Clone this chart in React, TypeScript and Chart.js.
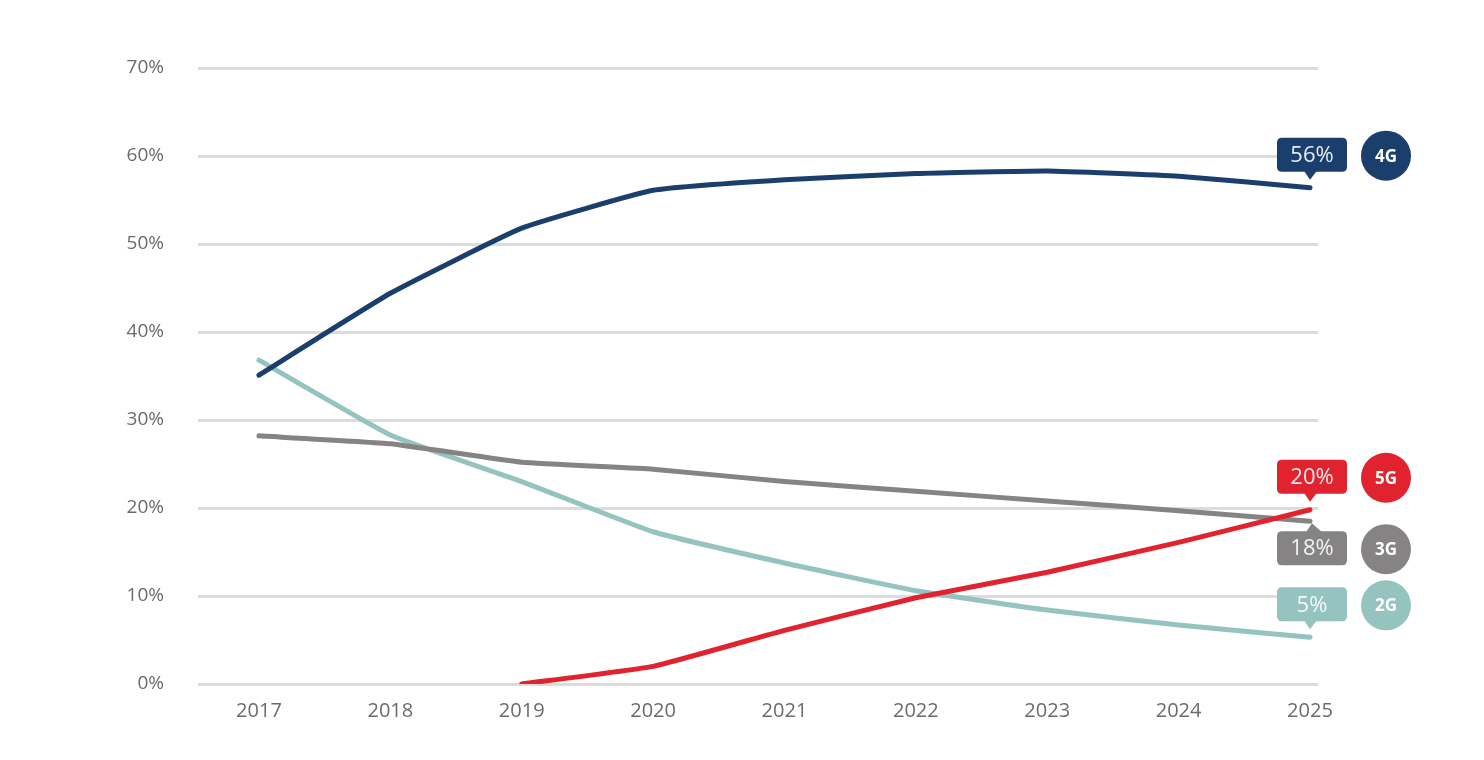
import React, { useEffect, useRef } from "react";
import { Chart, registerables } from "chart.js";

Chart.register(...registerables);

const years = [2017, 2018, 2019, 2020, 2021, 2022, 2023, 2024, 2025];
const yTicks = [0, 10, 20, 30, 40, 50, 60, 70];

const series4G = [35.1, 44.4, 51.8, 56.1, 57.3, 58.0, 58.3, 57.7, 56.4];
const series3G = [28.2, 27.3, 25.2, 24.4, 23.0, 21.9, 20.8, 19.7, 18.5];
const series2G = [36.8, 28.3, 23.0, 17.3, 13.75, 10.6, 8.4, 6.7, 5.3];
const series5G = [null, null, 0, 2.0, 6.1, 9.8, 12.7, 16.1, 19.8];

const seriesNames = ["4G", "5G", "3G", "2G"];
const seriesColors = ["#1b3f6c", "#e1222f", "#858383", "#94c3c0"];
const endLabels = ["56%", "20%", "18%", "5%"];
const calloutDirs = ["up", "up", "down", "up"]; // box above or below line end

const FONT = "'Open Sans', 'Noto Sans', sans-serif";

function toPoints(vals: (number | null)[]) {
  const out: { x: number; y: number }[] = [];
  vals.forEach((v, i) => {
    if (v !== null) out.push({ x: years[i], y: v });
  });
  return out;
}

function roundRect(ctx: CanvasRenderingContext2D, x: number, y: number, w: number, h: number, r: number) {
  ctx.beginPath();
  ctx.moveTo(x + r, y);
  ctx.lineTo(x + w - r, y);
  ctx.quadraticCurveTo(x + w, y, x + w, y + r);
  ctx.lineTo(x + w, y + h - r);
  ctx.quadraticCurveTo(x + w, y + h, x + w - r, y + h);
  ctx.lineTo(x + r, y + h);
  ctx.quadraticCurveTo(x, y + h, x, y + h - r);
  ctx.lineTo(x, y + r);
  ctx.quadraticCurveTo(x, y, x + r, y);
  ctx.closePath();
}

const calloutPlugin = {
  id: "callouts",
  afterDatasetsDraw(chart: any) {
    const ctx: CanvasRenderingContext2D = chart.ctx;
    ctx.save();
    chart.data.datasets.forEach((ds: any, i: number) => {
      const meta = chart.getDatasetMeta(i);
      const pt = meta.data[meta.data.length - 1];
      if (!pt) return;
      const px = pt.x;
      const py = pt.y;
      const color = seriesColors[i];
      const w = 70;
      const h = 34;
      const bx = px + 2 - w / 2;
      let by: number;
      ctx.fillStyle = color;
      if (calloutDirs[i] === "up") {
        by = py - 16 - h;
        roundRect(ctx, bx, by, w, h, 5);
        ctx.fill();
        ctx.beginPath();
        ctx.moveTo(px - 6, by + h - 1);
        ctx.lineTo(px + 7, by + h - 1);
        ctx.lineTo(px, py - 8);
        ctx.closePath();
        ctx.fill();
      } else {
        by = py + 10;
        roundRect(ctx, bx, by, w, h, 5);
        ctx.fill();
        ctx.beginPath();
        ctx.moveTo(px - 4, by + 1);
        ctx.lineTo(px + 12, by + 1);
        ctx.lineTo(px + 2, py + 2);
        ctx.closePath();
        ctx.fill();
      }
      const cy = by + h / 2;
      ctx.fillStyle = "rgba(255,255,255,0.9)";
      ctx.font = `400 22px ${FONT}`;
      ctx.textAlign = "center";
      ctx.textBaseline = "middle";
      ctx.fillText(endLabels[i], bx + w / 2, cy + 1);

      const cx = px + 76;
      ctx.fillStyle = color;
      ctx.beginPath();
      ctx.arc(cx, cy + 1, 25, 0, Math.PI * 2);
      ctx.fill();
      ctx.fillStyle = "#ffffff";
      ctx.font = `700 17px ${FONT}`;
      ctx.fillText(seriesNames[i], cx, cy + 2);
    });
    ctx.restore();
  },
};

export default function App() {
  const ref = useRef<HTMLCanvasElement | null>(null);
  useEffect(() => {
    if (!ref.current) return;
    const allSeries = [series4G, series5G, series3G, series2G];
    const chart = new Chart(ref.current, {
      type: "line",
      data: {
        datasets: allSeries.map((s, i) => ({
          label: seriesNames[i],
          data: toPoints(s),
          borderColor: seriesColors[i],
          backgroundColor: seriesColors[i],
          borderWidth: 5,
          borderCapStyle: "round",
          borderJoinStyle: "round",
          pointRadius: 0,
          tension: 0.12,
          fill: false,
          order: i,
        })) as any,
      },
      options: {
        responsive: false,
        animation: false,
        layout: { padding: { left: 0, right: 158, top: 60, bottom: 0 } },
        plugins: {
          legend: { display: false },
          tooltip: { enabled: false },
        },
        scales: {
          x: {
            type: "linear",
            min: 2016.536,
            max: 2025.061,
            afterBuildTicks: (scale: any) => {
              scale.ticks = years.map((y) => ({ value: y }));
            },
            afterFit: (scale: any) => {
              scale.height = 68;
            },
            grid: { display: false, drawTicks: false },
            border: { display: false },
            ticks: {
              padding: 15,
              color: "#6b6b6b",
              font: { family: FONT, size: 20 },
              callback: (v: any) => String(v),
              maxRotation: 0,
              autoSkip: false,
            },
          },
          y: {
            min: 0,
            max: 70,
            afterBuildTicks: (scale: any) => {
              scale.ticks = yTicks.map((v) => ({ value: v }));
            },
            afterFit: (scale: any) => {
              scale.width = 190;
            },
            grid: { color: "#dcdcdc", lineWidth: 3, drawTicks: false },
            border: { display: false },
            ticks: {
              padding: 34,
              color: "#6b6b6b",
              font: { family: FONT, size: 19 },
              callback: (v: any) => `${v}%`,
            },
          },
        },
      },
      plugins: [calloutPlugin],
    });
    return () => chart.destroy();
  }, []);
  return (
    <div style={{ width: 1468, height: 744 }}>
      <canvas ref={ref} width={1468} height={744} style={{ display: "block" }} />
    </div>
  );
}
